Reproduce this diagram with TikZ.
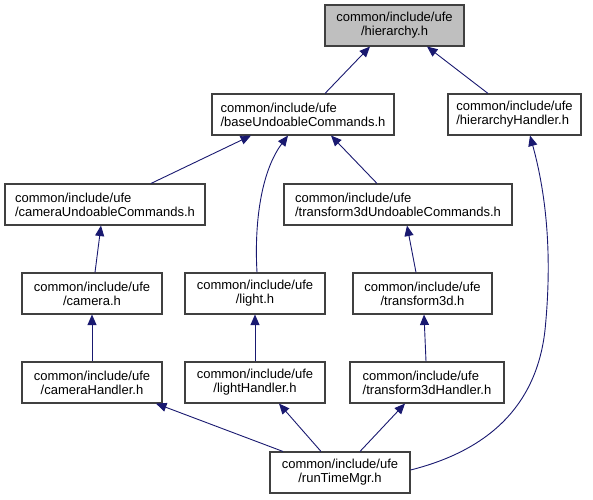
\documentclass[tikz,border=0pt]{standalone}
\usepackage{fontspec}
\setmainfont{Liberation Sans}
\usetikzlibrary{arrows.meta}
\definecolor{edgeblue}{HTML}{191970}
\definecolor{boxline}{HTML}{404040}
\definecolor{rootfill}{HTML}{BFBFBF}
\tikzset{
  filebox/.style={draw=boxline, line width=1.1pt, fill=white, minimum height=41pt,
    inner sep=0pt, font=\fontsize{13}{14}\selectfont, text=black},
  lbox/.style={filebox, align=left},
  cbox/.style={filebox, align=center},
  rootbox/.style={cbox, fill=rootfill},
  edge/.style={draw=edgeblue, line width=0.9pt, -{Triangle[length=10.5pt,width=9pt]}},
}
\begin{document}
\begin{tikzpicture}[x=1pt, y=-1pt]
\useasboundingbox (0,0) rectangle (593,499);
\node[rootbox, minimum width=139pt] (hier) at (394.5,25.5) {common/include/ufe\\/hierarchy.h};
\node[lbox, minimum width=182pt] (base) at (303,114.5) {common/include/ufe\\/baseUndoableCommands.h};
\node[lbox, minimum width=133pt] (hh) at (514.5,114.5) {common/include/ufe\\/hierarchyHandler.h};
\node[lbox, minimum width=200pt] (camU) at (105,204.5) {common/include/ufe\\/cameraUndoableCommands.h};
\node[lbox, minimum width=228pt] (trU) at (398,204.5) {common/include/ufe\\/transform3dUndoableCommands.h};
\node[cbox, minimum width=140pt] (cam) at (92,293.5) {common/include/ufe\\/camera.h};
\node[cbox, minimum width=140pt] (light) at (255,293.5) {common/include/ufe\\/light.h};
\node[cbox, minimum width=139pt] (t3d) at (422.5,293.5) {common/include/ufe\\/transform3d.h};
\node[cbox, minimum width=140pt] (camH) at (92,382.5) {common/include/ufe\\/cameraHandler.h};
\node[cbox, minimum width=140pt] (lightH) at (255,382.5) {common/include/ufe\\/lightHandler.h};
\node[lbox, minimum width=154pt] (t3dH) at (427,382.5) {common/include/ufe\\/transform3dHandler.h};
\node[cbox, minimum width=140pt] (rtm) at (340,472.5) {common/include/ufe\\/runTimeMgr.h};

\draw[edge] ([xshift=22pt]base.north) -- ([xshift=-24.5pt]hier.south);
\draw[edge] ([xshift=-26.5pt]hh.north) -- ([xshift=32.5pt]hier.south);
\draw[edge] ([xshift=46pt]camU.north) -- ([xshift=-52pt]base.south);
\draw[edge] ([xshift=2pt]light.north) .. controls (254,220) and (262,170) .. ([xshift=-15pt]base.south);
\draw[edge] ([xshift=-21pt]trU.north) -- ([xshift=28pt]base.south);
\draw[edge] ([yshift=2.5pt]rtm.east) .. controls (470,455) and (535,420) .. (545,330)
  .. controls (553,250) and (545,190) .. ([xshift=15.5pt]hh.south);
\draw[edge] ([xshift=3pt]cam.north) -- ([xshift=-4pt]camU.south);
\draw[edge] ([xshift=-6.5pt]t3d.north) -- ([xshift=9pt]trU.south);
\draw[edge] (camH.north) -- (cam.south);
\draw[edge] (lightH.north) -- (light.south);
\draw[edge] ([xshift=-1pt]t3dH.north) -- ([xshift=1.5pt]t3d.south);
\draw[edge] ([xshift=-57pt]rtm.north) -- ([xshift=64pt]camH.south);
\draw[edge] ([xshift=-19pt]rtm.north) -- ([xshift=24pt]lightH.south);
\draw[edge] ([xshift=20pt]rtm.north) -- ([xshift=-22pt]t3dH.south);
\end{tikzpicture}
\end{document}
